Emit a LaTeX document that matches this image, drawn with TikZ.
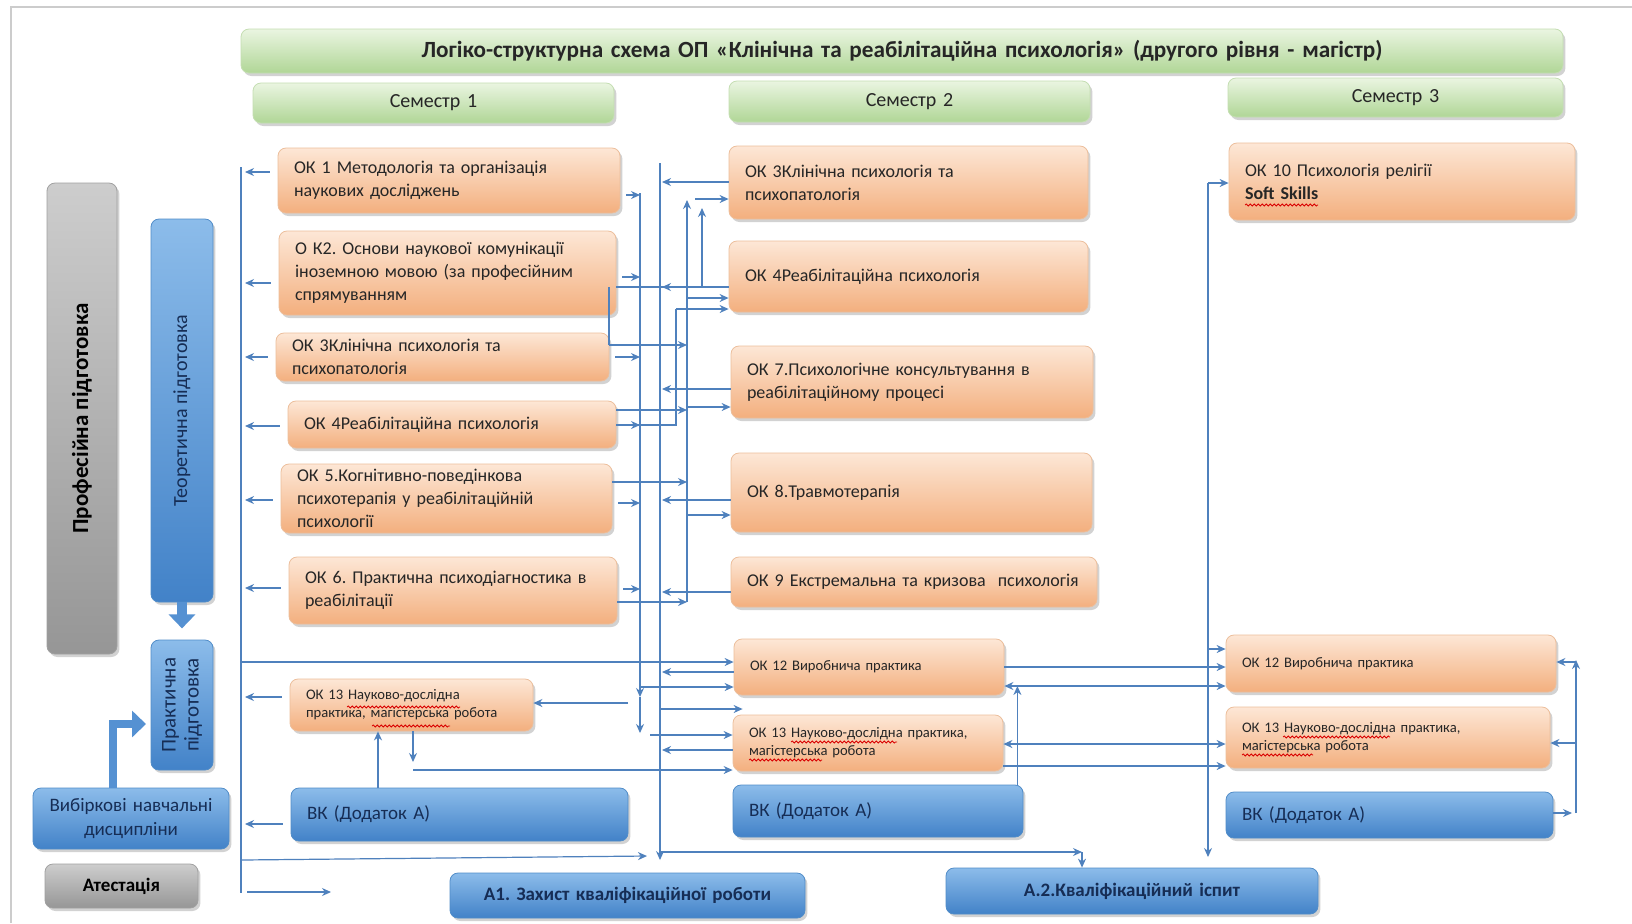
\documentclass[tikz,border=0pt]{standalone}
\usepackage{fontspec}
\setmainfont{Carlito}
\usetikzlibrary{arrows.meta,shadows,decorations.pathmorphing}

\definecolor{lnblue}{RGB}{79,129,189}
\definecolor{orTop}{RGB}{253,231,214}
\definecolor{orBot}{RGB}{243,175,126}
\definecolor{orEdge}{RGB}{236,190,155}
\definecolor{grTop}{RGB}{234,245,225}
\definecolor{grBot}{RGB}{176,214,150}
\definecolor{grEdge}{RGB}{196,222,178}
\definecolor{blTop}{RGB}{140,188,234}
\definecolor{blBot}{RGB}{66,130,200}
\definecolor{blEdge}{RGB}{80,140,200}
\definecolor{blMid}{RGB}{85,145,210}
\definecolor{gyTop}{RGB}{205,205,205}
\definecolor{gyBot}{RGB}{150,150,150}
\definecolor{gyEdge}{RGB}{160,160,160}
\definecolor{navy}{RGB}{22,45,85}

\tikzset{
  boxbase/.style={rounded corners=4pt, inner xsep=8pt, inner ysep=2pt,
    drop shadow={shadow xshift=1.2pt, shadow yshift=-1.5pt, opacity=.35}},
  okbox/.style={boxbase, top color=orTop, bottom color=orBot, draw=orEdge,
    align=left, text=black!85, font=\fontsize{9}{11.5}\selectfont},
  okmini/.style={okbox, font=\fontsize{7.3}{9}\selectfont},
  grbox/.style={boxbase, top color=grTop, bottom color=grBot, draw=grEdge,
    align=center, text=black!85, font=\fontsize{10}{12}\selectfont},
  blbox/.style={boxbase, top color=blTop, bottom color=blBot, draw=blEdge,
    align=left, text=navy, font=\fontsize{9.5}{12}\selectfont},
  gybox/.style={boxbase, top color=gyTop, bottom color=gyBot, draw=gyEdge,
    align=center, text=black, font=\bfseries\fontsize{9.5}{12}\selectfont},
  ln/.style={draw=lnblue, line width=.6pt},
  arr/.style={ln, -{Stealth[length=4.5pt,width=4pt]}},
  arr2/.style={ln, {Stealth[length=4.5pt,width=4pt]}-{Stealth[length=4.5pt,width=4pt]}},
  thickarr/.style={draw=blMid, -{Triangle[length=7pt,width=13pt]}},
  squig/.style={draw=red!85!black, line width=.4pt, decorate,
    decoration={snake, amplitude=.5pt, segment length=2pt}},
  frame/.style={draw=black!20, line width=.6pt}
}

% box from its corners (pixel units)
\newcommand{\ptbox}[7]{%
  \pgfmathsetmacro{\bxw}{(#5-#3)/2}%
  \pgfmathsetmacro{\bxh}{(#6-#4)/2}%
  \pgfmathsetmacro{\bxtw}{(#5-#3)/2-16}%
  \node[minimum width=\bxw pt, minimum height=\bxh pt, text width=\bxtw pt, #2]
    (#1) at ({(#3+#5)/2},{(#4+#6)/2}) {#7};}

\begin{document}
\frenchspacing
\begin{tikzpicture}[x=0.5pt, y=-0.5pt]
\fill[white] (0,0) rectangle (1632,923);
\useasboundingbox (0,0) rectangle (1632,923);
\draw[frame] (11,923) -- (11,7) -- (1632,7);

% headers
\ptbox{title}{grbox, font=\bfseries\fontsize{11.6}{13}\selectfont}{241}{29}{1563}{73}{Логіко-структурна схема ОП «Клінічна та реабілітаційна психологія» (другого рівня - магістр)}
\ptbox{sem1}{grbox}{253}{83}{614}{123}{Семестр 1}
\ptbox{sem2}{grbox}{729}{81}{1090}{122}{Семестр 2}
\ptbox{sem3}{grbox}{1228}{78}{1563}{117}{Семестр 3}

% left side
\node[gybox, rotate=90, minimum width=235.5pt, minimum height=35pt, font=\bfseries\fontsize{11.5}{13}\selectfont] (prof) at (82,418.5) {Професійна підготовка};
\node[blbox, rotate=90, align=center, minimum width=191.5pt, minimum height=31pt, font=\fontsize{10}{12}\selectfont] (teor) at (182,410.5) {Теоретична підготовка};
\node[blbox, rotate=90, align=center, minimum width=65pt, minimum height=31pt, inner ysep=1pt, font=\fontsize{10.5}{11.5}\selectfont] (prakt) at (182,705) {Практична\\підготовка};
\ptbox{vybir}{blbox, align=center}{33}{788}{229}{849}{Вибіркові~навчальні\\дисципліни}
\ptbox{atest}{gybox}{45}{864}{198}{908}{Атестація}
\draw[thickarr, line width=5pt] (teor.west) -- ++(0,26);
\draw[thickarr, line width=4pt] (vybir.north -| 113,0) |- (146,724);

% semester 1
\ptbox{ok1a}{okbox}{278}{148}{620}{213}{ОК 1 Методологія та організація\\наукових досліджень}
\ptbox{ok2a}{okbox}{279}{231}{616}{315}{О К2. Основи наукової комунікації\\іноземною~мовою~(за~професійним\\спрямуванням}
\ptbox{ok3a}{okbox}{276}{333}{609}{381}{ОК 3Клінічна психологія та\\психопатологія}
\ptbox{ok4a}{okbox}{288}{401}{616}{448}{ОК 4Реабілітаційна психологія}
\ptbox{ok5a}{okbox}{281}{464}{612}{533}{ОК 5.Когнітивно-поведінкова\\психотерапія у реабілітаційній\\психології}
\ptbox{ok6a}{okbox}{289}{557}{617}{624}{ОК~6.~Практична~психодіагностика~в\\реабілітації}
\ptbox{ok13a}{okmini}{290}{679}{533}{731}{ОК 13 Науково-дослідна\\практика, магістерська робота}
\ptbox{vka}{blbox}{291}{788}{628}{841}{ВК (Додаток А)}

% semester 2
\ptbox{ok3b}{okbox}{729}{146}{1088}{219}{ОК 3Клінічна психологія та\\психопатологія}
\ptbox{ok4b}{okbox}{729}{241}{1088}{312}{ОК 4Реабілітаційна психологія}
\ptbox{ok7b}{okbox}{731}{346}{1093}{418}{ОК~7.Психологічне~консультування~в\\реабілітаційному процесі}
\ptbox{ok8b}{okbox}{731}{453}{1092}{532}{ОК 8.Травмотерапія}
\ptbox{ok9b}{okbox}{731}{557}{1097}{607}{ОК~9~Екстремальна~та~кризова~~психологія}
\ptbox{ok12b}{okmini}{734}{639}{1004}{695}{ОК 12 Виробнича практика}
\ptbox{ok13b}{okmini}{733}{715}{1003}{771}{ОК 13 Науково-дослідна практика,\\магістерська робота}
\ptbox{vkb}{blbox}{733}{785}{1023}{837}{ВК (Додаток А)}

% semester 3
\ptbox{ok10c}{okbox}{1229}{143}{1575}{220}{ОК 10 Психологія релігії\\\textbf{Soft Skills}}
\ptbox{ok12c}{okmini}{1226}{635}{1556}{692}{ОК 12 Виробнича практика}
\ptbox{ok13c}{okmini}{1226}{707}{1550}{768}{ОК 13 Науково-дослідна практика,\\магістерська робота}
\ptbox{vkc}{blbox}{1226}{792}{1553}{838}{ВК (Додаток А)}

% attestation
\ptbox{a1}{blbox, align=center, font=\bfseries\fontsize{9.5}{12}\selectfont}{450}{873}{805}{918}{A1. Захист кваліфікаційної роботи}
\ptbox{a2}{blbox, align=center, font=\bfseries\fontsize{9.5}{12}\selectfont}{946}{868}{1318}{914}{А.2.Кваліфікаційний іспит}

% spell-check marks
\draw[squig] (1245,205) -- (1318,205);
\draw[squig] (347,707) -- (460,707);
\draw[squig] (372,726) -- (450,726);
\draw[squig] (791,742) -- (897,742);
\draw[squig] (749,760) -- (822,760);
\draw[squig] (1283,737) -- (1390,737);
\draw[squig] (1242,755) -- (1313,755);

% bus lines
\coordinate (lb) at (241,167);
\coordinate (v1) at (640,193);
\coordinate (v2) at (660,163);
\coordinate (v3) at (687,200);
\coordinate (v7) at (1208,183);
\coordinate (rb) at (1576,660);

% left bus
\draw[ln] (lb) -- (241,893);
\foreach \n/\yy in {ok1a/172,ok2a/283,ok3a/357,ok4a/426,ok5a/500,ok6a/588,ok13a/697,vka/824}
  \draw[arr, shorten <=4pt, shorten >=2pt] (\n.west |- 0,\yy) -- (lb |- 0,\yy);
\draw[arr] (lb |- 0,662) -- (ok12b.west |- 0,662);
\draw[arr] (lb |- 0,860) -- (647,856);
\draw[arr, shorten <=3pt] (lb |- 0,892) -- (331,892);

% first vertical
\draw[arr] (v1) -- (640,697);
\draw[arr] (640,697) -- (640,733);
\foreach \n/\yy in {ok1a/195,ok2a/277,ok3a/357,ok4a/425,ok5a/503,ok6a/589}
  \draw[arr, shorten <=3pt] (\n.east |- 0,\yy) -- (v1 |- 0,\yy);

% second vertical
\draw[arr] (v2) -- (660,860);
\foreach \n/\yy in {ok3b/182,ok4b/287,ok7b/389,ok8b/500,ok9b/592,ok12b/672,ok13b/750}
  \draw[arr, shorten >=1pt] (\n.west |- 0,\yy) -- (v2 |- 0,\yy);

% third vertical
\draw[arr] (687,602) -- (v3);
\foreach \n/\yy in {ok3a/345,ok4a/410,ok5a/482,ok6a/602}
  \draw[arr] (\n.east |- 0,\yy) -- (v3 |- 0,\yy);
\foreach \n/\yy in {ok4b/298,ok7b/407,ok8b/515}
  \draw[arr] (v3 |- 0,\yy) -- (\n.west |- 0,\yy);
\draw[arr, shorten <=4pt] (v3 |- 0,199) -- (ok3b.west |- 0,199);

\draw[ln] (ok2a.east |- 0,287) -- (702,287);
\draw[arr] (702,287) -- (702,208);
\draw[ln] (609,287) -- (609,345);
\draw[ln] (ok4a.east |- 0,425) -- (676,425) -- (676,309);
\draw[arr] (676,309) -- (ok4b.west |- 0,309);

% practice rows
\draw[arr] (v1 |- 0,687) -- (ok12b.west |- 0,687);
\draw[arr, shorten <=6pt] (v1 |- 0,703) -- (ok13a.east |- 0,703);
\draw[arr, shorten >=-5pt] (v2 |- 0,709) -- (ok13b.west |- 0,709);
\draw[arr, shorten <=5pt] (v1 |- 0,735) -- (ok13b.west |- 0,735);
\draw[arr] (ok13a.south -| 413,0) -- (413,762);
\draw[arr] (413,770) -- (ok13b.west |- 0,770);
\draw[arr] (vka.north -| 378,0) -- (ok13a.south -| 378,0);

% to attestation
\draw[arr] (v2 |- 0,852) -- (1082,852);
\draw[arr] (1082,852) -- (a2.north -| 1082,0);

% semester 3 links
\draw[arr] (v7) -- (1208,857);
\draw[arr] (v7) -- (ok10c.west |- v7);
\draw[arr] (v7 |- 0,649) -- (ok12c.west |- 0,649);
\draw[arr] (ok12b.east |- 0,667) -- (ok12c.west |- 0,667);
\draw[arr2] (ok12b.east |- 0,686) -- (ok12c.west |- 0,686);
\draw[arr] ([xshift=-3pt]vkb.north east) -- ([xshift=-3pt]vkb.north east |- 0,686);
\draw[arr2] (ok13b.east |- 0,744) -- (ok13c.west |- 0,744);
\draw[arr] (ok13b.east |- 0,766) -- (ok13c.west |- 0,766);

% right bus
\draw[arr] (1576,813) -- (rb);
\draw[arr] (rb |- 0,662) -- (ok12c.east |- 0,662);
\draw[arr] (rb |- 0,743) -- (ok13c.east |- 0,743);
\draw[arr, shorten >=2pt] (vkc.east |- 0,813) -- (rb |- 0,813);
\end{tikzpicture}
\end{document}
